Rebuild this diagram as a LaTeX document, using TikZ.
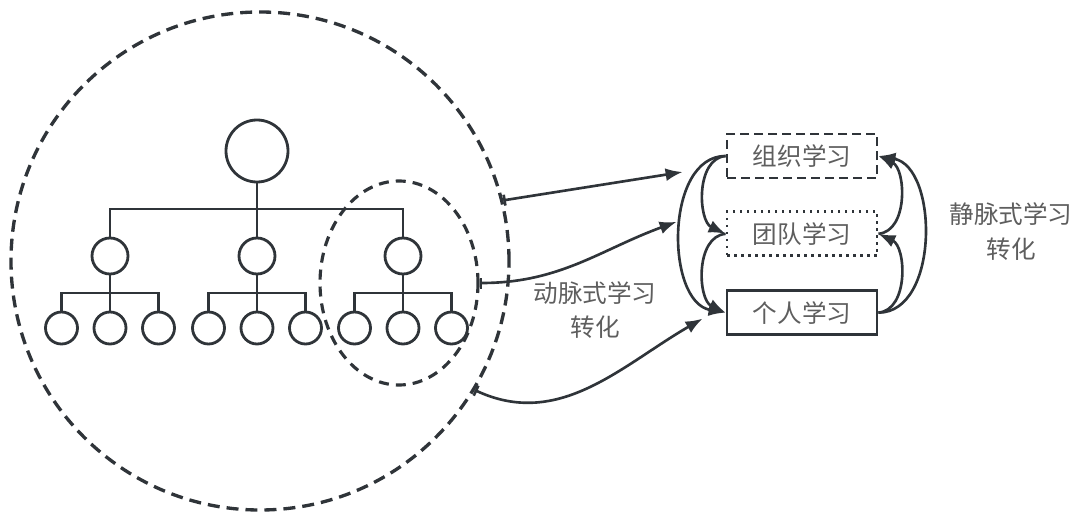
\documentclass[tikz,border=0pt]{standalone}
\usepackage{fontspec}
\newfontfamily\cjk{Noto Sans CJK SC}
\usetikzlibrary{arrows.meta,positioning,shapes.geometric}

\definecolor{linegray}{HTML}{2F3439}
\definecolor{textgray}{HTML}{5E5E5E}

\tikzset{
  member/.style={circle, draw=linegray, line width=1.6pt, inner sep=0pt},
  tree/.style={draw=linegray, line width=1.6pt},
  learnbox/.style={draw=linegray, line width=1.6pt, minimum width=3cm, minimum height=0.88cm,
    font=\cjk\fontsize{14}{17}\selectfont, text=textgray},
  caption/.style={align=center, font=\cjk\fontsize{14}{19.5}\selectfont, text=textgray},
  flow/.style={-{Latex[length=3.4mm,width=2.6mm]}, line width=1.5pt, draw=linegray},
  feed/.style={{Bar[width=2.2mm]}-{Latex[length=3.4mm,width=2.6mm]}, line width=1.5pt, draw=linegray},
}

\begin{document}
\begin{tikzpicture}[scale=1.0]
  \useasboundingbox (0,0) rectangle (21.56,10.24);
  % Organisation and one department
  \node[circle, draw=linegray, line width=1.9pt, dash pattern=on 0.24cm off 0.14cm,
    minimum size=9.96cm, inner sep=0pt] (org) at (5.2,5.02) {};
  \node[ellipse, draw=linegray, line width=1.8pt, dash pattern=on 0.2cm off 0.14cm,
    minimum width=3.16cm, minimum height=4.08cm, inner sep=0pt] (dept) at (7.98,4.58) {};
  % Hierarchy
  \node[member, minimum size=1.24cm] (root) at (5.14,7.22) {};
  \foreach \i/\x in {1/2.2, 2/5.14, 3/8.06}
    \node[member, minimum size=0.72cm] (team\i) at (\x,5.12) {};
  \foreach \i in {1,2,3}
    \foreach \j/\dx in {1/-0.97, 2/0, 3/0.97}
      \node[member, minimum size=0.64cm] (staff\i\j) at ([xshift=\dx cm]team\i |- 0,3.68) {};
  \coordinate (hub) at (5.14,6.06);
  \draw[tree] (root) -- (team2);
  \draw[tree] (team1) |- (hub) -| (team3);
  \foreach \i in {1,2,3} {
    \coordinate (sub\i) at (team\i |- 0,4.38);
    \draw[tree] (team\i) -- (staff\i2);
    \draw[tree] (staff\i1) |- (sub\i) -| (staff\i3);
  }
  % Learning levels
  \node[learnbox, dash pattern=on 0.18cm off 0.1cm] (orglearn) at (16.04,7.12) {组织学习};
  \node[learnbox, dash pattern=on 0.05cm off 0.09cm, below=0.62cm of orglearn] (teamlearn) {团队学习};
  \node[learnbox, below=0.64cm of teamlearn] (selflearn) {个人学习};
  % Inputs from the organisation
  \coordinate (in1) at ([xshift=-0.86cm, yshift=-0.32cm]orglearn.west);
  \coordinate (in2) at ([xshift=-0.98cm, yshift=0.24cm]teamlearn.west);
  \coordinate (in3) at ([xshift=-0.46cm, yshift=-0.12cm]selflearn.west);
  \draw[feed] (org.14) -- (in1);
  \draw[feed] (dept.east) to[out=0, in=200] (in2);
  \draw[feed] (org.-31) to[out=-25, in=210] (in3);
  % Downward transfer
  \draw[flow] (orglearn.west) to[out=185, in=155] (teamlearn.west);
  \draw[flow] (teamlearn.west) to[out=185, in=155] (selflearn.west);
  \draw[flow] (orglearn.west) to[out=180, in=170] (selflearn.west);
  % Upward transfer
  \draw[flow] (selflearn.east) to[out=5, in=-25] (teamlearn.east);
  \draw[flow] (teamlearn.east) to[out=5, in=-25] (orglearn.east);
  \draw[flow] (selflearn.east) to[out=0, in=-10] (orglearn.east);
  % Captions
  \node[caption] (artery) at (11.9,4.04) {动脉式学习\\转化};
  \node[caption] (vein) at (20.22,5.61) {静脉式学习\\转化};
\end{tikzpicture}
\end{document}
